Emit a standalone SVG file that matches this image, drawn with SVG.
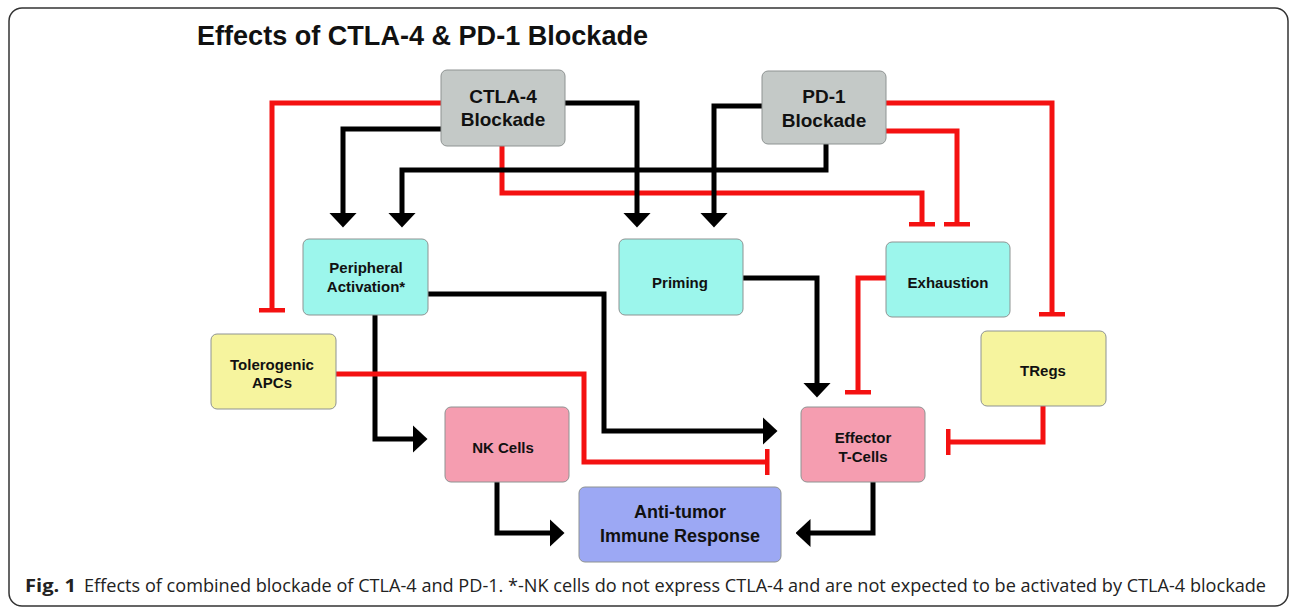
<svg xmlns="http://www.w3.org/2000/svg" width="1292" height="607" viewBox="0 0 1292 607">
  <defs>
    <style>
      .box { stroke: #8e9392; stroke-width: 1; }
      .gray { fill: #c4c9c7; }
      .cyan { fill: #9cf6ec; }
      .yellow { fill: #f6f49e; }
      .pink { fill: #f59db0; }
      .blue { fill: #9ca8f4; }
      .lbl { font-family: "Liberation Sans", Arial, sans-serif; font-weight: bold; fill: #111; text-anchor: middle; }
      .big { font-size: 19px; }
      .mid { font-size: 18px; }
      .sm { font-size: 15px; }
      .cap { font-family: "Open Sans", "Noto Sans", sans-serif; font-size: 17.5px; fill: #222; }
      .act { fill: none; stroke: #000; stroke-width: 5; stroke-linejoin: miter; marker-end: url(#arrow); }
      .inh { fill: none; stroke: #f41111; stroke-width: 5; stroke-linejoin: miter; marker-end: url(#tee); }
    </style>
    <marker id="arrow" viewBox="0 0 15 28" markerWidth="15" markerHeight="28" refX="0.5" refY="14" orient="auto" markerUnits="userSpaceOnUse">
      <path d="M0,0 L15,14 L0,28 Z" fill="#000"/>
    </marker>
    <marker id="tee" viewBox="0 0 5 26" markerWidth="5" markerHeight="26" refX="2.5" refY="13" orient="auto" markerUnits="userSpaceOnUse">
      <rect x="0" y="0" width="5" height="26" fill="#f41111"/>
    </marker>
  </defs>

  <rect x="0" y="0" width="1292" height="607" fill="#fff"/>
  <rect x="9" y="8" width="1279" height="598" rx="13" ry="13" fill="#fff" stroke="#333" stroke-width="1.5"/>

  <text x="197" y="45" font-family="'Liberation Sans', Arial, sans-serif" font-weight="bold" font-size="27" fill="#111" textLength="451" lengthAdjust="spacingAndGlyphs">Effects of CTLA-4 &amp; PD-1 Blockade</text>

  <g id="connectors">
    <path class="inh" d="M441,103 H272 V310"/>
    <path class="inh" d="M502,146 V193 H922 V224"/>
    <path class="inh" d="M886,131 H957 V224"/>
    <path class="inh" d="M886,103 H1052 V314"/>
    <path class="inh" d="M886,278 H858 V392"/>
    <path class="inh" d="M1043,406 V442 H948"/>
    <path class="act" d="M441,129 H343 V213"/>
    <path class="act" d="M826,143 V170 H402 V213"/>
    <path class="act" d="M565,103 H637 V213"/>
    <path class="act" d="M762,106 H714 V213"/>
    <path class="act" d="M428,294 H604 V431 H763"/>
    <path class="act" d="M375,315 V439 H413"/>
    <path class="act" d="M743,278 H817 V383"/>
    <path class="act" d="M497,482 V533 H550"/>
    <path class="act" d="M873,482 V533 H810"/>
    <path class="inh" d="M336,374 H584 V462 H767"/>
  </g>

  <g id="ctla4">
    <rect class="box gray" x="441" y="70" width="124" height="76" rx="6"/>
    <text class="lbl big" x="503" y="103">CTLA-4</text>
    <text class="lbl big" x="503" y="126">Blockade</text>
  </g>
  <g id="pd1">
    <rect class="box gray" x="762" y="71" width="124" height="73" rx="6"/>
    <text class="lbl big" x="824" y="103">PD-1</text>
    <text class="lbl big" x="824" y="127">Blockade</text>
  </g>
  <g id="peripheral">
    <rect class="box cyan" x="303" y="239" width="125" height="76" rx="6"/>
    <text class="lbl sm" x="366" y="273">Peripheral</text>
    <text class="lbl sm" x="366" y="292">Activation*</text>
  </g>
  <g id="priming">
    <rect class="box cyan" x="619" y="239" width="124" height="76" rx="6"/>
    <text class="lbl sm" x="680" y="288">Priming</text>
  </g>
  <g id="exhaustion">
    <rect class="box cyan" x="886" y="242" width="124" height="75" rx="6"/>
    <text class="lbl sm" x="948" y="288">Exhaustion</text>
  </g>
  <g id="tolerogenic">
    <rect class="box yellow" x="211" y="334" width="125" height="75" rx="6"/>
    <text class="lbl sm" x="272" y="370">Tolerogenic</text>
    <text class="lbl sm" x="272" y="388">APCs</text>
  </g>
  <g id="tregs">
    <rect class="box yellow" x="981" y="331" width="125" height="75" rx="6"/>
    <text class="lbl sm" x="1043" y="376">TRegs</text>
  </g>
  <g id="nk">
    <rect class="box pink" x="445" y="407" width="124" height="75" rx="6"/>
    <text class="lbl sm" x="503" y="453">NK Cells</text>
  </g>
  <g id="effector">
    <rect class="box pink" x="801" y="407" width="124" height="75" rx="6"/>
    <text class="lbl sm" x="863" y="443">Effector</text>
    <text class="lbl sm" x="863" y="462">T-Cells</text>
  </g>
  <g id="antitumor">
    <rect class="box blue" x="579" y="487" width="202" height="75" rx="6"/>
    <text class="lbl mid" x="680" y="518">Anti-tumor</text>
    <text class="lbl mid" x="680" y="542">Immune Response</text>
  </g>

  <text class="cap" x="25" y="592" font-weight="bold" textLength="51" lengthAdjust="spacingAndGlyphs">Fig. 1</text>
  <text class="cap" x="84" y="592" textLength="1182" lengthAdjust="spacingAndGlyphs">Effects of combined blockade of CTLA-4 and PD-1. *-NK cells do not express CTLA-4 and are not expected to be activated by CTLA-4 blockade</text>
</svg>
